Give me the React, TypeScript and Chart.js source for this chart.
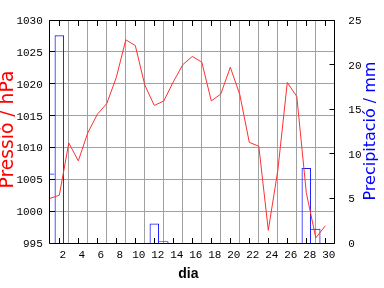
import { useEffect, useRef } from "react";
import { Chart, registerables } from "chart.js";

Chart.register(...registerables);

// ---- data ----
const days = [1, 2, 3, 4, 5, 6, 7, 8, 9, 10, 11, 12, 13, 14, 15, 16, 17, 18, 19, 20, 21, 22, 23, 24, 25, 26, 27, 28, 29, 30];
const pressure = [
  1002.0, 1002.5, 1010.7, 1007.9, 1012.3, 1015.2, 1016.9, 1021.0, 1026.9, 1026.0,
  1019.8, 1016.6, 1017.3, 1020.3, 1023.0, 1024.3, 1023.4, 1017.3, 1018.4, 1022.6,
  1018.3, 1010.8, 1010.2, 997.0, 1006.4, 1020.2, 1018.0, 1002.9, 995.8, 997.7,
];
const precipitation = [
  7.8, 23.3, 0, 0, 0, 0, 0, 0, 0, 0,
  0, 2.2, 0.2, 0, 0, 0, 0, 0, 0, 0,
  0, 0, 0, 0, 0, 0, 0, 8.4, 1.6, 0,
];
const dayTicks = [2, 4, 6, 8, 10, 12, 14, 16, 18, 20, 22, 24, 26, 28, 30];
const pressureTicks = [995, 1000, 1005, 1010, 1015, 1020, 1025, 1030];
const precipTicks = [0, 5, 10, 15, 20, 25];

const xLabel = "dia";
const leftLabel = "Pressió / hPa";
const rightLabel = "Precipitació / mm";

const GRID = "#a0a0a0";
const RED = "#ff3030";
const BLUE = "#1a1aff";
const MONO = "'Liberation Mono', 'DejaVu Sans Mono', monospace";

export default function App() {
  const ref = useRef<HTMLCanvasElement>(null);

  useEffect(() => {
    document.body.style.margin = "0";
    const canvas = ref.current;
    if (!canvas) return;

    const al = (v: number) => Math.round(v - 0.5) + 0.5;

    const fitFont = (ctx: CanvasRenderingContext2D, text: string, target: number, family: string) => {
      ctx.font = `100px ${family}`;
      const w = ctx.measureText(text).width;
      return `${(100 * target) / w}px ${family}`;
    };

    const framePlugin = {
      id: "frame",
      afterDatasetsDraw(chart: any) {
        const { ctx, chartArea, scales } = chart;
        const L = al(chartArea.left);
        const R = al(chartArea.right);
        const T = al(chartArea.top);
        const B = al(chartArea.bottom);
        ctx.save();
        ctx.strokeStyle = "#000";
        ctx.lineWidth = 1;
        ctx.beginPath();
        ctx.rect(L, T, R - L, B - T);
        for (const v of dayTicks) {
          const px = al(scales.x.getPixelForValue(v));
          ctx.moveTo(px, T);
          ctx.lineTo(px, T + 5.5);
          ctx.moveTo(px, B);
          ctx.lineTo(px, B - 5.5);
        }
        for (const v of pressureTicks) {
          const py = al(scales.yP.getPixelForValue(v));
          ctx.moveTo(L, py);
          ctx.lineTo(L + 5.5, py);
        }
        for (const v of precipTicks) {
          const py = al(scales.yR.getPixelForValue(v));
          ctx.moveTo(R, py);
          ctx.lineTo(R - 5, py);
        }
        ctx.stroke();
        ctx.restore();
      },
      afterDraw(chart: any) {
        const { ctx, chartArea } = chart;
        const midY = (chartArea.top + chartArea.bottom) / 2;
        ctx.save();
        ctx.textAlign = "center";
        ctx.textBaseline = "alphabetic";
        // left title
        ctx.save();
        ctx.fillStyle = "#ff0000";
        ctx.font = fitFont(ctx, leftLabel, 118, "'DejaVu Sans'");
        ctx.translate(chartArea.left - 36.5, midY - 2);
        ctx.rotate(-Math.PI / 2);
        ctx.fillText(leftLabel, 0, 0);
        ctx.restore();
        // right title
        ctx.save();
        ctx.fillStyle = "#0000ff";
        ctx.font = fitFont(ctx, rightLabel, 139, "'DejaVu Sans'");
        ctx.translate(chartArea.right + 39.7, midY - 0.5);
        ctx.rotate(-Math.PI / 2);
        ctx.fillText(rightLabel, 0, 0);
        ctx.restore();
        // x title
        ctx.fillStyle = "#000";
        ctx.font = "bold 14px 'Liberation Sans'";
        ctx.fillText(xLabel, (chartArea.left + chartArea.right) / 2 - 4, chartArea.bottom + 35);
        ctx.restore();
      },
    };

    const tickFont = { family: MONO, size: 11 };
    const plain = (v: any) => String(v);

    const chart = new Chart(canvas, {
      type: "bar",
      data: {
        datasets: [
          {
            type: "line",
            label: leftLabel,
            data: days.map((d, i) => ({ x: d, y: pressure[i] })),
            xAxisID: "x",
            yAxisID: "yP",
            borderColor: RED,
            borderWidth: 1,
            pointRadius: 0,
            tension: 0,
            fill: false,
            order: 0,
          } as any,
          {
            type: "bar",
            label: rightLabel,
            data: days.map((d, i) => ({ x: d, y: precipitation[i] })),
            xAxisID: "x",
            yAxisID: "yR",
            borderColor: BLUE,
            backgroundColor: "rgba(0,0,0,0)",
            barPercentage: 1,
            categoryPercentage: 1,
            inflateAmount: 0,
            borderWidth: (c: any) => {
              const i = c.dataIndex;
              const v = precipitation[i] ?? 0;
              const prev = precipitation[i - 1] ?? 0;
              const next = precipitation[i + 1] ?? 0;
              return { top: 1, bottom: 0, left: prev > v ? 0 : 1, right: next > v ? 0 : 1 };
            },
            order: 1,
          } as any,
        ],
      },
      options: {
        responsive: false,
        animation: false,
        devicePixelRatio: 1,
        layout: { padding: { top: 13, left: 0, right: 0, bottom: 0 } },
        plugins: {
          legend: { display: false },
          tooltip: { enabled: false },
          title: { display: false },
        },
        scales: {
          x: {
            type: "linear",
            min: 1,
            max: 31,
            offset: false,
            afterBuildTicks: (s: any) => {
              s.ticks = dayTicks.map((v) => ({ value: v }));
            },
            afterFit: (s: any) => {
              s.height = 45;
            },
            grid: { color: GRID, drawTicks: false, lineWidth: 1 },
            border: { display: false },
            ticks: {
              font: tickFont,
              color: "#000",
              padding: 5.4,
              labelOffset: 3.5,
              maxRotation: 0,
              autoSkip: false,
              callback: plain,
            },
          },
          yP: {
            type: "linear",
            position: "left",
            min: 995,
            max: 1030,
            afterBuildTicks: (s: any) => {
              s.ticks = pressureTicks.map((v) => ({ value: v }));
            },
            afterFit: (s: any) => {
              s.width = 49.8;
            },
            grid: { color: GRID, drawTicks: false, lineWidth: 1 },
            border: { display: false },
            ticks: { font: tickFont, color: "#000", padding: 7, labelOffset: 1, callback: plain },
          },
          yR: {
            type: "linear",
            position: "right",
            min: 0,
            max: 25,
            afterBuildTicks: (s: any) => {
              s.ticks = precipTicks.map((v) => ({ value: v }));
            },
            afterFit: (s: any) => {
              s.width = 49.2;
            },
            grid: { display: false, drawTicks: false },
            border: { display: false },
            ticks: { font: tickFont, color: "#000", padding: 13.5, labelOffset: 1, callback: plain },
          },
        },
      } as any,
      plugins: [framePlugin],
    });

    return () => chart.destroy();
  }, []);

  return (
    <div style={{ position: "absolute", left: 0, top: 0, width: 384, height: 288, background: "#fff" }}>
      <canvas ref={ref} width={384} height={288} style={{ display: "block", width: 384, height: 288 }} />
    </div>
  );
}
